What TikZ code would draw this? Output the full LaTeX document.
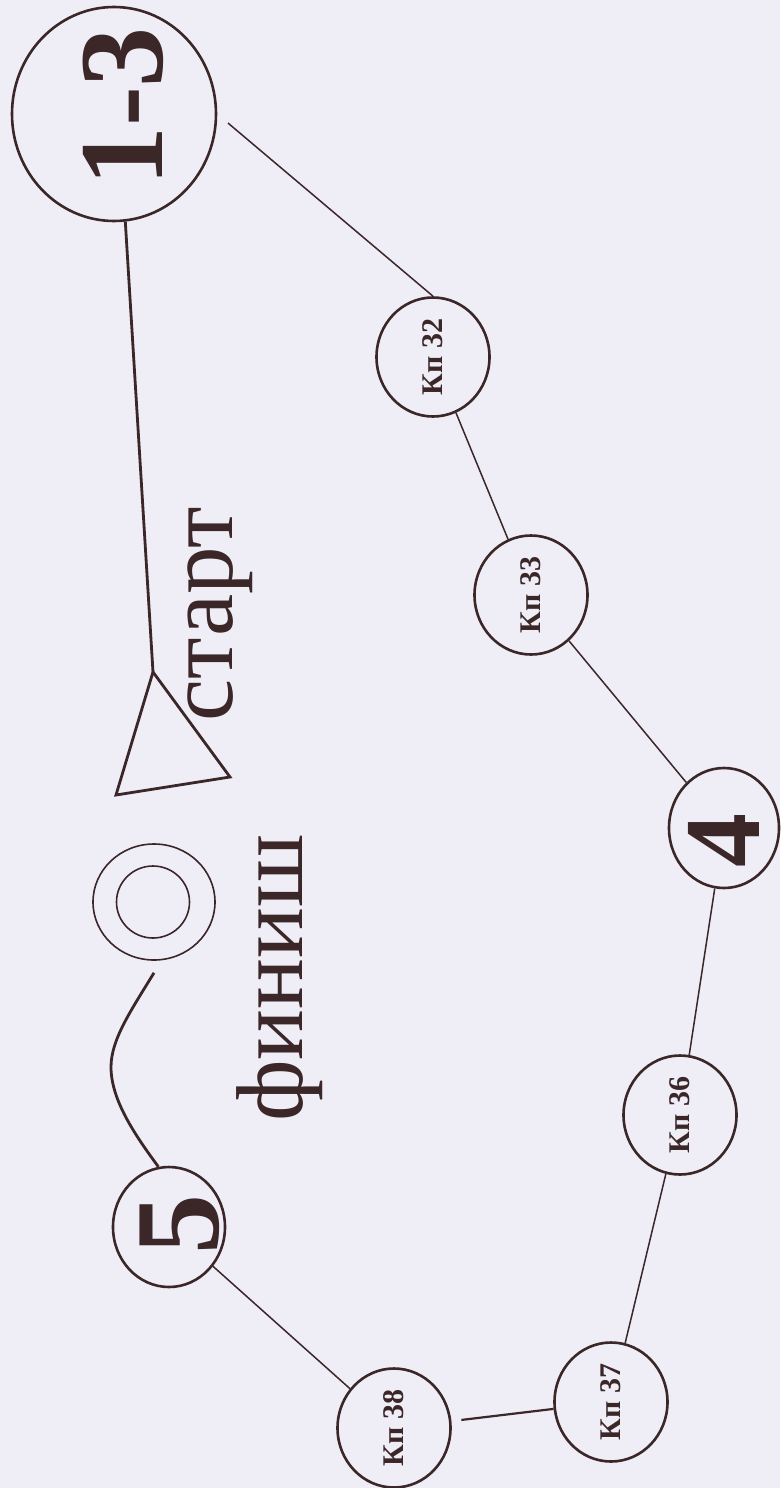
\documentclass[tikz,border=0pt]{standalone}
\usepackage{fontspec}
\setmainfont{Liberation Serif}
\usetikzlibrary{shapes.geometric}
\definecolor{ink}{HTML}{3B2628}
\definecolor{paper}{HTML}{EFEEF7}

\begin{document}
\begin{tikzpicture}[
  x=1pt, y=-1pt,
  cp/.style={draw=ink, line width=2.6pt, ellipse, rotate=90, inner sep=0pt,
    minimum width=119pt, minimum height=113pt, text=ink,
    font=\fontsize{30}{30}\selectfont\bfseries},
  bigcp/.style={draw=ink, line width=2.6pt, ellipse, inner sep=0pt},
  num/.style={rotate=90, inner sep=0pt, text=ink, font=\fontsize{120}{120}\selectfont\bfseries},
  word/.style={rotate=90, anchor=mid, inner sep=0pt, text=ink, font=\fontsize{95}{95}\selectfont},
  ring/.style={draw=ink, line width=1.6pt, ellipse, inner sep=0pt},
  leg/.style={draw=ink, line width=1.5pt},
  route/.style={draw=ink, line width=2.8pt},
]
\fill[paper] (0,0) rectangle (780,1488);
\useasboundingbox (0,0) rectangle (780,1488);

% start and finish
\node[bigcp, minimum width=204pt, minimum height=214pt] (n13) at (114,114) {};
\node[num] (t13) at (123,107) {1-3};
\coordinate (flag) at (153,672);
\draw[route] (n13.-84) -- (flag);
\draw[route, line join=miter] (flag) -- (230,777) -- (116,795) -- cycle;
\node[word] (startlbl) at (230.5,614) {старт};

\node[ring, minimum width=122pt, minimum height=116pt] (fin) at (154,902) {};
\node[ring, minimum width=73pt, minimum height=72pt] (finin) at (153,902) {};
\node[word] (finlbl) at (300,978) {финиш};

% control points
\node[cp] (kp32) at (433,357) {Кп 32};
\node[cp] (kp33) at (531,595) {Кп 33};
\node[bigcp, minimum width=110pt, minimum height=120pt] (n4) at (724,828) {};
\node[num, font=\fontsize{108}{108}\selectfont\bfseries] (t4) at (724,840) {4};
\node[cp] (kp36) at (680,1115) {Кп 36};
\node[cp] (kp37) at (611,1402) {Кп 37};
\node[cp] (kp38) at (394,1428) {Кп 38};
\node[bigcp, minimum width=112pt, minimum height=120pt] (n5) at (169,1227) {};
\node[num] (t5) at (180,1224) {5};

% legs
\draw[leg, shorten <=14pt] (n13.east) -- (kp32.east);
\foreach \u/\v in {kp32/kp33, kp33/n4, n4/kp36, kp36/kp37} \draw[leg] (\u) -- (\v);
\draw[leg, line width=2.2pt, shorten >=10pt] (kp37) -- (kp38);
\draw[leg] (kp38) -- (n5);
\draw[route] ([yshift=-12pt]fin.south) .. controls (130,1012) and (111,1040) .. (111,1067)
  .. controls (111,1100) and (135,1135) .. (n5.100);
\end{tikzpicture}
\end{document}
